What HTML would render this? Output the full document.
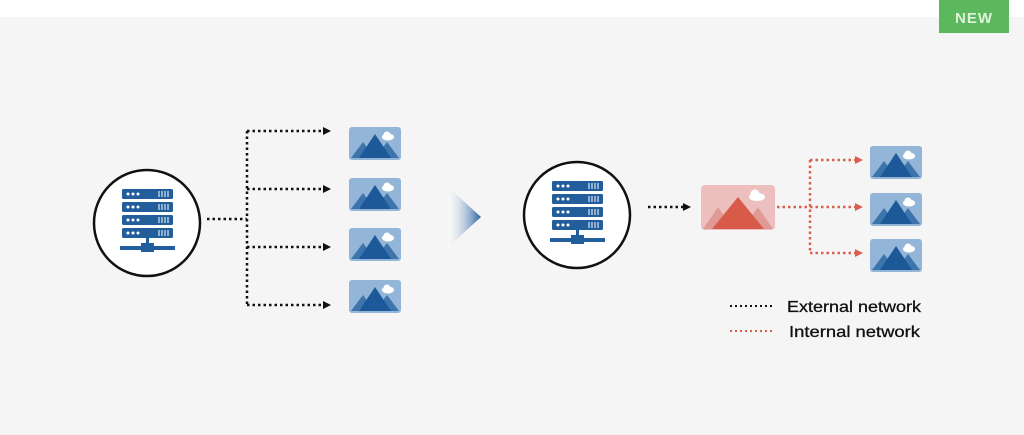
<!DOCTYPE html>
<html><head><meta charset="utf-8"><style>
html,body{margin:0;padding:0;}
body{width:1024px;height:430px;overflow:hidden;background:#f5f5f5;font-family:"Liberation Sans",sans-serif;}
</style></head><body>
<svg width="1024" height="430" viewBox="0 0 1024 430" xmlns="http://www.w3.org/2000/svg">
<defs>
<linearGradient id="ag" x1="0" x2="1" y1="0" y2="0">
<stop offset="0" stop-color="#ffffff" stop-opacity="0.2"/><stop offset="1" stop-color="#2a62a3"/>
</linearGradient>
<g id="img">
<rect x="0" y="0" width="52" height="33" rx="3" fill="#93b6d8"/>
<polygon points="2,31 14,15 26,31" fill="#3e74ac"/>
<polygon points="26,31 38,15 50,31" fill="#3e74ac"/>
<polygon points="10,31 26,7 42,31" fill="#1d5898"/>
<ellipse cx="39" cy="10" rx="6" ry="3.5" fill="#fff"/><circle cx="38" cy="8" r="3.5" fill="#fff"/>
</g>
<g id="srv">
<g fill="#225e9c">
<rect x="0" y="0" width="51" height="10" rx="1.5"/>
<rect x="0" y="13" width="51" height="10" rx="1.5"/>
<rect x="0" y="26" width="51" height="10" rx="1.5"/>
<rect x="0" y="39" width="51" height="10" rx="1.5"/>
<rect x="24" y="49" width="3" height="8"/>
<rect x="-2" y="57" width="55" height="4"/>
<rect x="19" y="54" width="13" height="9"/>
</g>
<g fill="#fff">
<circle cx="6" cy="5" r="1.5"/><circle cx="11" cy="5" r="1.5"/><circle cx="16" cy="5" r="1.5"/>
<circle cx="6" cy="18" r="1.5"/><circle cx="11" cy="18" r="1.5"/><circle cx="16" cy="18" r="1.5"/>
<circle cx="6" cy="31" r="1.5"/><circle cx="11" cy="31" r="1.5"/><circle cx="16" cy="31" r="1.5"/>
<circle cx="6" cy="44" r="1.5"/><circle cx="11" cy="44" r="1.5"/><circle cx="16" cy="44" r="1.5"/>
</g>
<g stroke="#fff" stroke-width="1">
<path d="M37 2v6M40 2v6M43 2v6M46 2v6 M37 15v6M40 15v6M43 15v6M46 15v6 M37 28v6M40 28v6M43 28v6M46 28v6 M37 41v6M40 41v6M43 41v6M46 41v6"/>
</g>
</g>
</defs>
<rect x="0" y="0" width="1024" height="17" fill="#fff"/>
<rect x="939" y="0" width="70" height="33" fill="#5cb85c"/>
<text x="974" y="23" font-size="15" font-weight="bold" fill="#dff3dc" text-anchor="middle" letter-spacing="1">NEW</text>

<!-- left -->
<circle cx="147" cy="223" r="53" fill="#fff" stroke="#111" stroke-width="2.5"/>
<use href="#srv" x="122" y="189"/>
<g stroke="#111" stroke-width="2.5" stroke-dasharray="2.5,3" fill="none">
<path d="M207 219H247M247 131V306M247 131H324M247 189H324M247 247H324M247 305H324"/>
</g>
<g fill="#111">
<polygon points="323,127 331,131 323,135"/><polygon points="323,185 331,189 323,193"/>
<polygon points="323,243 331,247 323,251"/><polygon points="323,301 331,305 323,309"/>
</g>
<use href="#img" x="349" y="127"/><use href="#img" x="349" y="178"/>
<use href="#img" x="349" y="228"/><use href="#img" x="349" y="280"/>

<polygon points="448,187 481,217 448,247" fill="url(#ag)"/>

<!-- right -->
<circle cx="577" cy="215" r="53" fill="#fff" stroke="#111" stroke-width="2.5"/>
<use href="#srv" x="552" y="181"/>
<path d="M648 207H684" stroke="#111" stroke-width="2.5" stroke-dasharray="2.5,3"/>
<polygon points="683,203 691,207 683,211" fill="#111"/>
<rect x="701" y="185" width="74" height="45" rx="4" fill="#eebfbf"/>
<polygon points="703,229 718,207 733,229" fill="#e09a96"/>
<polygon points="743,229 758,207 773,229" fill="#e09a96"/>
<polygon points="712,229 738,197 764,229" fill="#d85b49"/>
<ellipse cx="757" cy="197" rx="8" ry="4" fill="#fff"/><circle cx="755" cy="194" r="4.5" fill="#fff"/>
<g stroke="#d8604f" stroke-width="2.5" stroke-dasharray="2.5,3" fill="none">
<path d="M777 207H856M810 160V253M810 160H856M810 253H856"/>
</g>
<g fill="#d8604f">
<polygon points="855,156 863,160 855,164"/><polygon points="855,203 863,207 855,211"/><polygon points="855,249 863,253 855,257"/>
</g>
<use href="#img" x="870" y="146"/><use href="#img" x="870" y="193"/><use href="#img" x="870" y="239"/>

<path d="M730 306H773" stroke="#111" stroke-width="2" stroke-dasharray="2,3"/>
<path d="M730 331H773" stroke="#d8604f" stroke-width="2" stroke-dasharray="2,3"/>
<text x="787" y="312" font-size="16" fill="#111" stroke="#111" stroke-width="0.3" textLength="134" lengthAdjust="spacingAndGlyphs">External network</text>
<text x="789" y="337" font-size="16" fill="#111" stroke="#111" stroke-width="0.3" textLength="131" lengthAdjust="spacingAndGlyphs">Internal network</text>
</svg>
</body></html>
